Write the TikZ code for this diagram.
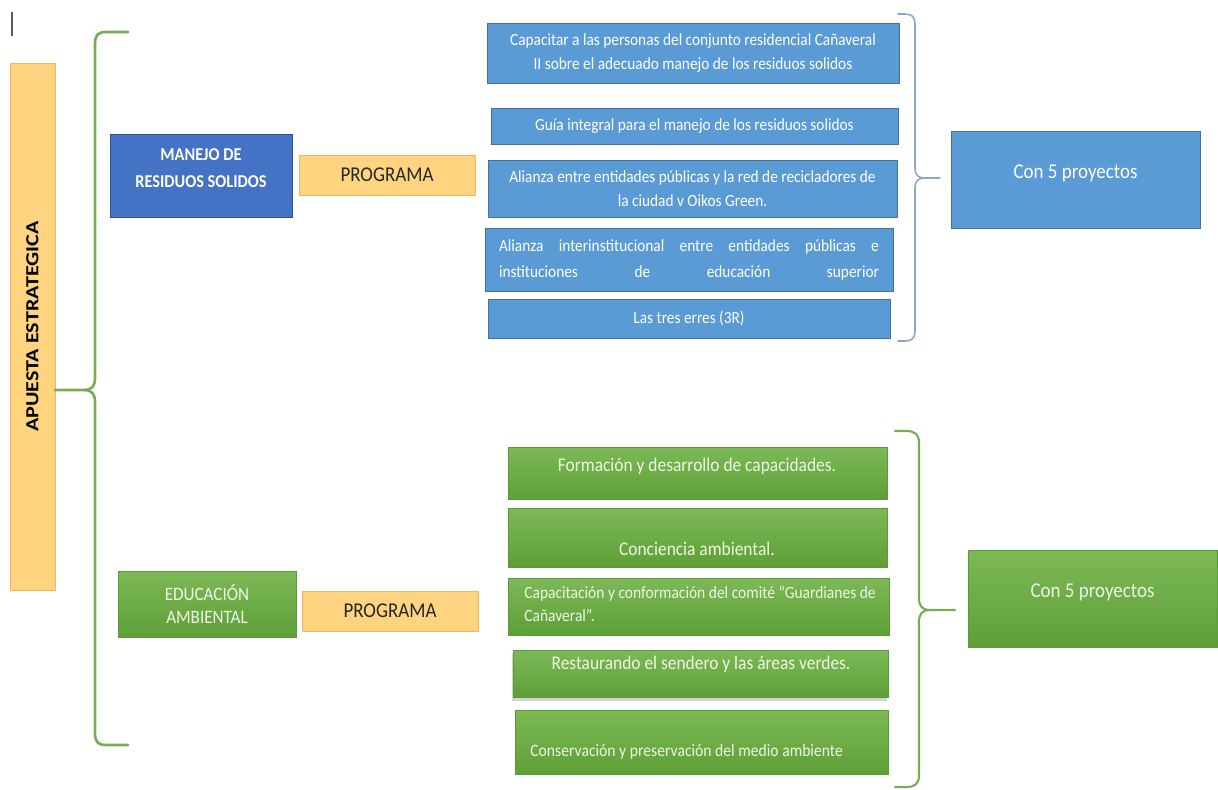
\documentclass[tikz,border=0pt]{standalone}
\usepackage{fontspec}
\setmainfont{Carlito}[FakeStretch=0.9]
\newfontfamily\apfont{Carlito}[FakeStretch=1.2]
\usepackage{tikz}
\usetikzlibrary{positioning,shadows}
\definecolor{cBlueDk}{HTML}{4472C4}
\definecolor{cBlueDkLn}{HTML}{2F5597}
\definecolor{cBlue}{HTML}{5B9BD5}
\definecolor{cBlueLn}{HTML}{41719C}
\definecolor{cGreenHi}{HTML}{7DB957}
\definecolor{cGreenLo}{HTML}{5E9F36}
\definecolor{cGreenLn}{HTML}{5B9A37}
\definecolor{cGreenTx}{HTML}{EEF6E6}
\definecolor{cOrange}{HTML}{FFD480}
\definecolor{cOrangeLn}{HTML}{F2B55A}
\definecolor{cBraceB}{HTML}{8CA6C6}
\definecolor{cMark}{HTML}{5A5A5A}
\tikzset{
  sz/.style 2 args={minimum width=#1*0.02cm, minimum height=#2*0.02cm},
  blk/.style={draw, inner sep=0pt, align=center},
  apbox/.style={blk, draw=cOrangeLn, fill=cOrange, text=black,
                font=\apfont\bfseries\fontsize{10.5}{12}\selectfont},
  prog/.style={blk, draw=cOrangeLn, fill=cOrange, text=black!85,
               font=\fontsize{12}{14}\selectfont},
  mainb/.style={blk, draw=cBlueDkLn, fill=cBlueDk, text=white, text depth=0.3cm,
                font=\bfseries\fontsize{10.3}{15.3}\selectfont},
  maing/.style={blk, draw=cGreenLn, top color=cGreenHi, bottom color=cGreenLo,
                text=cGreenTx, font=\fontsize{10.8}{13}\selectfont},
  ptask/.style={blk, draw=cBlueLn, fill=cBlue, text=white,
                font=\fontsize{9.7}{13.6}\selectfont},
  gtask/.style={blk, draw=cGreenLn, top color=cGreenHi, bottom color=cGreenLo},
  gtxt/.style={inner sep=0pt, text=cGreenTx, align=left,
               font=\fontsize{11}{13}\selectfont},
  countb/.style={blk, draw=cBlueLn, fill=cBlue, text=white, text depth=0.3cm,
                 font=\fontsize{12}{14}\selectfont},
  countg/.style={blk, draw=cGreenLn, top color=cGreenHi, bottom color=cGreenLo,
                 text=cGreenTx, text depth=0.3cm, font=\fontsize{12}{14}\selectfont},
  brc/.style={line cap=round, line join=round},
}

\begin{document}
\begin{tikzpicture}[x=0.02cm, y=-0.02cm]
  \useasboundingbox (0,0) rectangle (1218,789);
  \draw[cMark, line width=0.8pt] (12,12) -- (12,36);

  % --- root ---
  \node[apbox, rotate=90, sz={527}{45}] (ap) at (32.5,326.5) {APUESTA ESTRATEGICA};

  % --- manejo de residuos ---
  \node[mainb, sz={182}{83}] (mrs) at (201,175.5) {MANEJO DE\\ RESIDUOS SOLIDOS};
  \node[prog,  sz={176}{40}] (pr1) at (387,175) {PROGRAMA};

  \node[ptask, sz={412}{60}] (b1) at (693,53)
    {Capacitar a las personas del conjunto residencial Cañaveral\\ II sobre el adecuado manejo de los residuos solidos};
  \node[ptask, sz={407}{36}] (b2) at (694.5,126) {Guía integral para el manejo de los residuos solidos};
  \node[ptask, sz={409}{57}] (b3) at (692.5,188.5)
    {Alianza entre entidades públicas y la red de recicladores de\\ la ciudad v Oikos Green.};
  \node[ptask, sz={408}{63}, text width=7.6cm, align=left, font=\fontsize{9.7}{14.8}\selectfont] (b4) at (689,259.5)
    {Alianza\hfill interinstitucional\hfill entre\hfill entidades\hfill públicas\hfill e\\
     instituciones\hfill de\hfill educación\hfill superior};
  \node[ptask, sz={402}{39}] (b5) at (689,318.5) {Las tres erres (3R)};

  \node[countb, sz={249}{97}] (c1) at (1075.5,179.5) {Con 5 proyectos};

  % --- educacion ambiental ---
  \node[maing, sz={178}{66}] (ea)  at (207,604) {EDUCACIÓN\\ AMBIENTAL};
  \node[prog,  sz={176}{40}] (pr2) at (390,611) {PROGRAMA};

  \node[gtask, sz={379}{52}] (g1) at (697.5,473) {};
  \node[gtask, sz={379}{59}] (g2) at (697.5,537.5) {};
  \node[gtask, sz={381}{57}] (g3) at (698.5,606.5) {};
  \node[gtask, sz={375}{47},
        drop shadow={opacity=0.35, shadow xshift=-0.5pt, shadow yshift=-2pt}] (g4) at (700.5,673.5) {};
  \node[gtask, sz={373}{64}] (g5) at (701.5,742) {};
  \node[gtxt] (g1t) at (697,466) {Formación y desarrollo de capacidades.};
  \node[gtxt] (g2t) at (697,549) {Conciencia ambiental.};
  \node[gtxt, anchor=west, font=\fontsize{9.8}{13}\selectfont] (g3t) at (524,604)
    {Capacitación y conformación del comité “Guardianes de\\ Cañaveral”.};
  \node[gtxt] (g4t) at (701,664) {Restaurando el sendero y las áreas verdes.};
  \node[gtxt, anchor=west, font=\fontsize{9.9}{13}\selectfont] (g5t) at (530,752)
    {Conservación y preservación del medio ambiente};

  \node[countg, sz={249}{97}] (c2) at (1092.5,598.5) {Con 5 proyectos};

  % --- braces ---
  \coordinate (lbT) at (128,32);
  \coordinate (lbB) at (128,745);
  \coordinate (lbP) at (55,390);
  \draw[brc, cGreenLo!85!white, line width=1.5pt]
    (lbT) -- (106,32) .. controls (98,32) and (95,35) .. (95,44) -- (95,378)
    .. controls (95,386) and (92,390) .. (84,390) -- (lbP);
  \draw[brc, cGreenLo!85!white, line width=1.5pt]
    (84,390) .. controls (92,390) and (95,394) .. (95,402) -- (95,733)
    .. controls (95,742) and (98,745) .. (106,745) -- (lbB);

  \coordinate (bbT) at (898,14);
  \coordinate (bbB) at (898,341);
  \coordinate (bbP) at (940,178);
  \draw[brc, cBraceB, line width=0.9pt]
    (bbT) -- (905,14) .. controls (912,14) and (915,17) .. (915,24) -- (915,168)
    .. controls (915,175) and (918,178) .. (925,178) -- (bbP);
  \draw[brc, cBraceB, line width=0.9pt]
    (925,178) .. controls (918,178) and (915,181) .. (915,188) -- (915,331)
    .. controls (915,338) and (912,341) .. (905,341) -- (bbB);

  \coordinate (gbT) at (895,431);
  \coordinate (gbB) at (895,787);
  \coordinate (gbP) at (955,610);
  \draw[brc, cGreenLo!85!white, line width=1.2pt]
    (gbT) -- (906,431) .. controls (915,431) and (919,434) .. (919,443) -- (919,598)
    .. controls (919,606) and (922,610) .. (930,610) -- (gbP);
  \draw[brc, cGreenLo!85!white, line width=1.2pt]
    (930,610) .. controls (922,610) and (919,614) .. (919,622) -- (919,775)
    .. controls (919,784) and (915,787) .. (906,787) -- (gbB);
\end{tikzpicture}
\end{document}
